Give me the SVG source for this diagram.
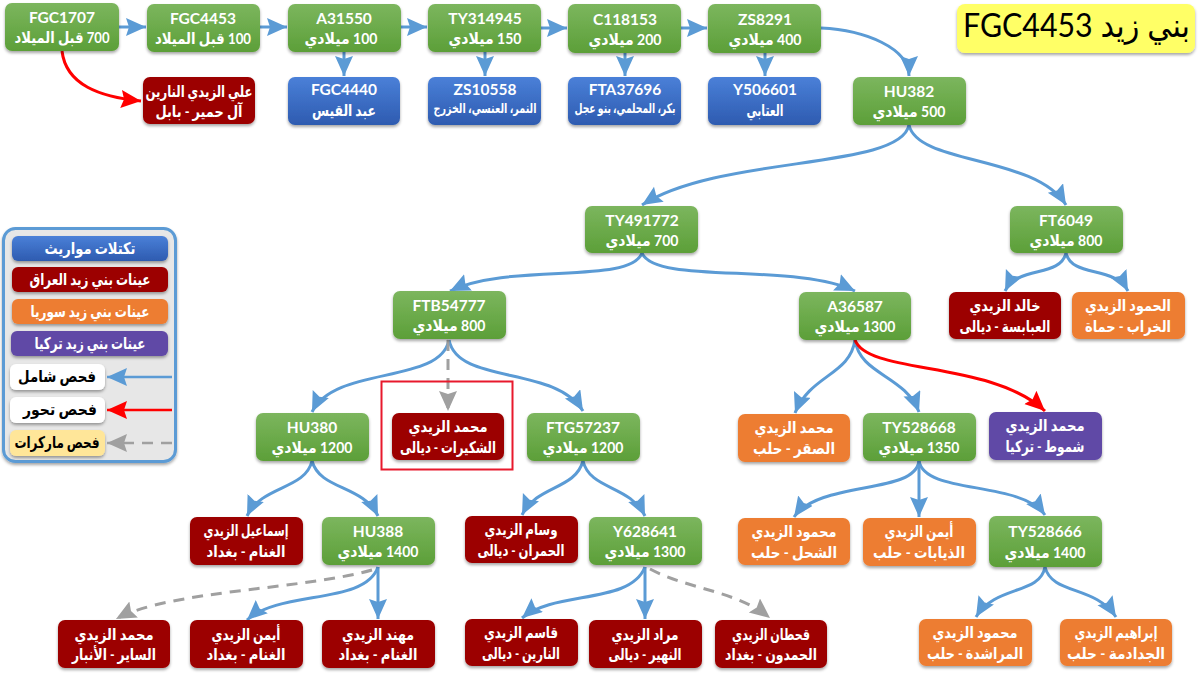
<svg xmlns="http://www.w3.org/2000/svg" width="1200" height="675" viewBox="0 0 1200 675">
<style>
text{font-family:"Lato","DejaVu Sans",sans-serif;text-anchor:middle;direction:rtl;font-weight:700;fill:#fff}
.t{font-size:15.5px}
.l{font-size:16px}
.s{font-size:13.5px}
.k{fill:#000}
rect{stroke:none}
.node rect,.leg rect{filter:url(#sh)}
.g{fill:url(#gg)}.b{fill:url(#gb)}.r{fill:#9c0000}.o{fill:#ed7d31}.p{fill:#6049a6}.w{fill:#fff}.y{fill:#ffe699}
#connectors path{fill:none;stroke-width:3}
.cb{stroke:#5b9bd5;marker-end:url(#ab)}
.cr{stroke:#f00;marker-end:url(#ar)}
.cd{stroke:#a0a0a0;stroke-dasharray:11 8;marker-end:url(#ad)}
</style>
<defs>
<linearGradient id="gg" x1="0" y1="0" x2="0" y2="1"><stop offset="0" stop-color="#7cb65e"/><stop offset="1" stop-color="#5c9f38"/></linearGradient>
<linearGradient id="gb" x1="0" y1="0" x2="0" y2="1"><stop offset="0" stop-color="#4a80d8"/><stop offset="1" stop-color="#2e5bb0"/></linearGradient>
<filter id="sh" x="-10%" y="-15%" width="120%" height="135%"><feDropShadow dx="0" dy="2" stdDeviation="1.5" flood-color="#000" flood-opacity=".35"/></filter>
<marker id="ab" markerUnits="userSpaceOnUse" markerWidth="22" markerHeight="20" refX="20" refY="9" orient="auto"><path d="M0 0L20 9L0 18L3 9Z" fill="#5b9bd5"/></marker>
<marker id="ar" markerUnits="userSpaceOnUse" markerWidth="22" markerHeight="20" refX="20" refY="9" orient="auto"><path d="M0 0L20 9L0 18L3 9Z" fill="#f00"/></marker>
<marker id="ad" markerUnits="userSpaceOnUse" markerWidth="22" markerHeight="20" refX="20" refY="9" orient="auto"><path d="M0 0L20 9L0 18L3 9Z" fill="#a0a0a0"/></marker>
</defs>
<rect width="1200" height="675" fill="#fff"/>
<g id="connectors">
<path class="cb" d="M119 27H146"/><path class="cb" d="M260 27H287"/><path class="cb" d="M400 27H427"/><path class="cb" d="M541 28H567"/><path class="cb" d="M681 28H707"/>
<path class="cb" d="M344 52V76"/><path class="cb" d="M485 52V76"/><path class="cb" d="M625 53V76"/><path class="cb" d="M765 53V76"/>
<path class="cb" d="M821 28C865 30 909 48 909 76"/>
<path class="cr" d="M62 51C66 85 100 97 141 101"/>
<path class="cb" d="M909 125C900 170 720 155 642 205"/>
<path class="cb" d="M909 125C918 165 1035 155 1066 205"/>
<path class="cb" d="M642 253C630 285 510 262 450 291"/>
<path class="cb" d="M642 253C655 285 795 262 855 291"/>
<path class="cb" d="M1066 253C1060 278 1018 265 1005 291"/>
<path class="cb" d="M1066 253C1072 278 1114 265 1128 291"/>
<path class="cb" d="M449 340C440 385 335 365 312 412"/>
<path class="cb" d="M449 340C458 385 555 365 583 411"/>
<path class="cd" d="M448 340V411"/>
<path class="cb" d="M855 340C850 375 810 375 795 413"/>
<path class="cb" d="M855 340C860 375 905 375 919 412"/>
<path class="cr" d="M855 340C868 375 990 360 1045 411"/>
<path class="cb" d="M312 461C305 490 262 485 247 516"/>
<path class="cb" d="M312 461C320 490 363 485 378 516"/>
<path class="cb" d="M583 461C575 490 537 485 522 515"/>
<path class="cb" d="M583 461C590 490 630 485 645 516"/>
<path class="cb" d="M919 461C915 495 820 480 794 517"/>
<path class="cb" d="M919 461V517"/>
<path class="cb" d="M919 461C925 495 1020 480 1045 515"/>
<path class="cb" d="M378 567V619"/>
<path class="cb" d="M378 567C365 605 280 590 247 620"/>
<path class="cd" d="M372 570C300 590 170 590 116 619"/>
<path class="cb" d="M645 567V619"/>
<path class="cb" d="M645 567C630 605 555 590 522 618"/>
<path class="cd" d="M650 569C690 590 735 590 770 618"/>
<path class="cb" d="M1045 567C1040 595 995 585 976 617"/>
<path class="cb" d="M1045 567C1052 595 1095 585 1116 617"/>
</g>
<rect id="highlight" x="381.500" y="381.500" width="131" height="88" fill="none" style="stroke:#e8192c;stroke-width:2"/>
<g id="n1" class="node"><rect class="g" x="5" y="3" width="114" height="48" rx="7"/><text class="t" x="62" y="23">FGC1707</text><text class="l" x="62" y="43" textLength="95" lengthAdjust="spacingAndGlyphs">700 قبل الميلاد</text></g>
<g id="n2" class="node"><rect class="g" x="147" y="4" width="113" height="48" rx="7"/><text class="t" x="203" y="24">FGC4453</text><text class="l" x="203" y="44" textLength="96" lengthAdjust="spacingAndGlyphs">100 قبل الميلاد</text></g>
<g id="n3" class="node"><rect class="g" x="288" y="4" width="113" height="48" rx="7"/><text class="t" x="344" y="24">A31550</text><text class="l" x="341" y="44" textLength="73" lengthAdjust="spacingAndGlyphs">100 ميلادي</text></g>
<g id="n4" class="node"><rect class="g" x="428" y="4" width="113" height="48" rx="7"/><text class="t" x="485" y="24">TY314945</text><text class="l" x="485" y="44" textLength="73" lengthAdjust="spacingAndGlyphs">150 ميلادي</text></g>
<g id="n5" class="node"><rect class="g" x="568" y="4" width="113" height="49" rx="7"/><text class="t" x="625" y="25">C118153</text><text class="l" x="625" y="45" textLength="73" lengthAdjust="spacingAndGlyphs">200 ميلادي</text></g>
<g id="n6" class="node"><rect class="g" x="708" y="4" width="113" height="49" rx="7"/><text class="t" x="765" y="25">ZS8291</text><text class="l" x="765" y="45" textLength="73" lengthAdjust="spacingAndGlyphs">400 ميلادي</text></g>
<g id="n7" class="node"><rect class="r" x="143" y="77" width="112" height="47" rx="7"/><text class="l" x="199" y="97" textLength="107" lengthAdjust="spacingAndGlyphs">علي الزيدي النارين</text><text class="l" x="199" y="117" textLength="87" lengthAdjust="spacingAndGlyphs">آل حمير - بابل</text></g>
<g id="n8" class="node"><rect class="b" x="288" y="77" width="112" height="48" rx="7"/><text class="t" x="344" y="95">FGC4440</text><text class="l" x="344" y="116" textLength="64" lengthAdjust="spacingAndGlyphs">عبد القيس</text></g>
<g id="n9" class="node"><rect class="b" x="428" y="77" width="113" height="48" rx="7"/><text class="t" x="485" y="95">ZS10558</text><text class="s" x="485" y="113" textLength="103" lengthAdjust="spacingAndGlyphs">النمر، العنسي، الخزرج</text></g>
<g id="n10" class="node"><rect class="b" x="568" y="77" width="113" height="48" rx="7"/><text class="t" x="625" y="95">FTA37696</text><text class="s" x="625" y="113" textLength="101" lengthAdjust="spacingAndGlyphs">بكر، المحلمي، بنو عجل</text></g>
<g id="n11" class="node"><rect class="b" x="708" y="77" width="113" height="48" rx="7"/><text class="t" x="765" y="95">Y506601</text><text class="l" x="765" y="116" textLength="37" lengthAdjust="spacingAndGlyphs">العتابي</text></g>
<g id="n12" class="node"><rect class="g" x="853" y="77" width="113" height="48" rx="7"/><text class="t" x="909" y="97">HU382</text><text class="l" x="909" y="117" textLength="73" lengthAdjust="spacingAndGlyphs">500 ميلادي</text></g>
<g id="n13" class="node"><rect class="g" x="585" y="206" width="113" height="47" rx="7"/><text class="t" x="642" y="226">TY491772</text><text class="l" x="642" y="246" textLength="73" lengthAdjust="spacingAndGlyphs">700 ميلادي</text></g>
<g id="n14" class="node"><rect class="g" x="1010" y="206" width="113" height="47" rx="7"/><text class="t" x="1066" y="226">FT6049</text><text class="l" x="1066" y="246" textLength="73" lengthAdjust="spacingAndGlyphs">800 ميلادي</text></g>
<g id="n15" class="node"><rect class="g" x="393" y="291" width="113" height="48" rx="7"/><text class="t" x="449" y="311">FTB54777</text><text class="l" x="449" y="331" textLength="73" lengthAdjust="spacingAndGlyphs">800 ميلادي</text></g>
<g id="n16" class="node"><rect class="g" x="799" y="292" width="112" height="48" rx="7"/><text class="t" x="855" y="312">A36587</text><text class="l" x="855" y="332" textLength="81" lengthAdjust="spacingAndGlyphs">1300 ميلادي</text></g>
<g id="n17" class="node"><rect class="r" x="949" y="292" width="112" height="47" rx="7"/><text class="l" x="1005" y="311" textLength="71" lengthAdjust="spacingAndGlyphs">خالد الزيدي</text><text class="l" x="1005" y="332" textLength="91" lengthAdjust="spacingAndGlyphs">العبابسة - ديالى</text></g>
<g id="n18" class="node"><rect class="o" x="1072" y="292" width="113" height="47" rx="7"/><text class="l" x="1128" y="311" textLength="86" lengthAdjust="spacingAndGlyphs">الحمود الزيدي</text><text class="l" x="1128" y="332" textLength="86" lengthAdjust="spacingAndGlyphs">الخراب - حماة</text></g>
<g id="n19" class="node"><rect class="g" x="256" y="413" width="113" height="48" rx="7"/><text class="t" x="312" y="433">HU380</text><text class="l" x="312" y="453" textLength="81" lengthAdjust="spacingAndGlyphs">1200 ميلادي</text></g>
<g id="n20" class="node"><rect class="r" x="392" y="413" width="112" height="47" rx="7"/><text class="l" x="448" y="432" textLength="79" lengthAdjust="spacingAndGlyphs">محمد الزيدي</text><text class="l" x="448" y="453" textLength="96" lengthAdjust="spacingAndGlyphs">الشكيرات - ديالى</text></g>
<g id="n21" class="node"><rect class="g" x="527" y="413" width="113" height="48" rx="7"/><text class="t" x="583" y="433">FTG57237</text><text class="l" x="583" y="453" textLength="81" lengthAdjust="spacingAndGlyphs">1200 ميلادي</text></g>
<g id="n22" class="node"><rect class="o" x="738" y="414" width="112" height="48" rx="7"/><text class="l" x="794" y="433" textLength="79" lengthAdjust="spacingAndGlyphs">محمد الزيدي</text><text class="l" x="794" y="454" textLength="82" lengthAdjust="spacingAndGlyphs">الصقر - حلب</text></g>
<g id="n23" class="node"><rect class="g" x="863" y="413" width="113" height="48" rx="7"/><text class="t" x="919" y="433">TY528668</text><text class="l" x="919" y="453" textLength="81" lengthAdjust="spacingAndGlyphs">1350 ميلادي</text></g>
<g id="n24" class="node"><rect class="p" x="989" y="412" width="113" height="48" rx="7"/><text class="l" x="1045" y="431" textLength="79" lengthAdjust="spacingAndGlyphs">محمد الزيدي</text><text class="l" x="1045" y="452" textLength="79" lengthAdjust="spacingAndGlyphs">شموط - تركيا</text></g>
<g id="n25" class="node"><rect class="r" x="190" y="517" width="113" height="48" rx="7"/><text class="l" x="246" y="536" textLength="85" lengthAdjust="spacingAndGlyphs">إسماعيل الزيدي</text><text class="l" x="246" y="557" textLength="79" lengthAdjust="spacingAndGlyphs">الغنام - بغداد</text></g>
<g id="n26" class="node"><rect class="g" x="322" y="517" width="113" height="48" rx="7"/><text class="t" x="378" y="537">HU388</text><text class="l" x="378" y="557" textLength="81" lengthAdjust="spacingAndGlyphs">1400 ميلادي</text></g>
<g id="n27" class="node"><rect class="r" x="465" y="516" width="113" height="47" rx="7"/><text class="l" x="521" y="535" textLength="73" lengthAdjust="spacingAndGlyphs">وسام الزيدي</text><text class="l" x="521" y="556" textLength="87" lengthAdjust="spacingAndGlyphs">الحمران - ديالى</text></g>
<g id="n28" class="node"><rect class="g" x="589" y="517" width="113" height="48" rx="7"/><text class="t" x="645" y="537">Y628641</text><text class="l" x="645" y="557" textLength="81" lengthAdjust="spacingAndGlyphs">1300 ميلادي</text></g>
<g id="n29" class="node"><rect class="o" x="738" y="518" width="112" height="47" rx="7"/><text class="l" x="794" y="537" textLength="85" lengthAdjust="spacingAndGlyphs">محمود الزيدي</text><text class="l" x="794" y="558" textLength="86" lengthAdjust="spacingAndGlyphs">الشحل - حلب</text></g>
<g id="n30" class="node"><rect class="o" x="863" y="518" width="113" height="48" rx="7"/><text class="l" x="919" y="537" textLength="69" lengthAdjust="spacingAndGlyphs">أيمن الزيدي</text><text class="l" x="919" y="558" textLength="92" lengthAdjust="spacingAndGlyphs">الذيابات - حلب</text></g>
<g id="n31" class="node"><rect class="g" x="989" y="516" width="113" height="51" rx="7"/><text class="t" x="1045" y="537">TY528666</text><text class="l" x="1045" y="558" textLength="81" lengthAdjust="spacingAndGlyphs">1400 ميلادي</text></g>
<g id="n32" class="node"><rect class="r" x="58" y="620" width="112" height="48" rx="7"/><text class="l" x="114" y="640" textLength="79" lengthAdjust="spacingAndGlyphs">محمد الزيدي</text><text class="l" x="114" y="660" textLength="84" lengthAdjust="spacingAndGlyphs">الساير - الأنبار</text></g>
<g id="n33" class="node"><rect class="r" x="190" y="620" width="113" height="48" rx="7"/><text class="l" x="246" y="640" textLength="69" lengthAdjust="spacingAndGlyphs">أيمن الزيدي</text><text class="l" x="246" y="660" textLength="79" lengthAdjust="spacingAndGlyphs">الغنام - بغداد</text></g>
<g id="n34" class="node"><rect class="r" x="322" y="620" width="113" height="48" rx="7"/><text class="l" x="378" y="640" textLength="72" lengthAdjust="spacingAndGlyphs">مهند الزيدي</text><text class="l" x="378" y="660" textLength="79" lengthAdjust="spacingAndGlyphs">الغنام - بغداد</text></g>
<g id="n35" class="node"><rect class="r" x="465" y="619" width="113" height="47" rx="7"/><text class="l" x="521" y="638" textLength="74" lengthAdjust="spacingAndGlyphs">قاسم الزيدي</text><text class="l" x="521" y="659" textLength="78" lengthAdjust="spacingAndGlyphs">النارين - ديالى</text></g>
<g id="n36" class="node"><rect class="r" x="589" y="620" width="113" height="48" rx="7"/><text class="l" x="645" y="640" textLength="67" lengthAdjust="spacingAndGlyphs">مراد الزيدي</text><text class="l" x="645" y="660" textLength="73" lengthAdjust="spacingAndGlyphs">النهير - ديالى</text></g>
<g id="n37" class="node"><rect class="r" x="715" y="620" width="112" height="48" rx="7"/><text class="l" x="771" y="640" textLength="78" lengthAdjust="spacingAndGlyphs">قحطان الزيدي</text><text class="l" x="771" y="660" textLength="92" lengthAdjust="spacingAndGlyphs">الحمدون - بغداد</text></g>
<g id="n38" class="node"><rect class="o" x="919" y="619" width="113" height="47" rx="7"/><text class="l" x="975" y="638" textLength="85" lengthAdjust="spacingAndGlyphs">محمود الزيدي</text><text class="l" x="975" y="659" textLength="96" lengthAdjust="spacingAndGlyphs">المراشدة - حلب</text></g>
<g id="n39" class="node"><rect class="o" x="1060" y="619" width="112" height="47" rx="7"/><text class="l" x="1116" y="638" textLength="83" lengthAdjust="spacingAndGlyphs">إبراهيم الزيدي</text><text class="l" x="1116" y="659" textLength="98" lengthAdjust="spacingAndGlyphs">الجدادمة - حلب</text></g>
<g id="title" class="node"><rect x="957" y="4" width="238" height="49" rx="8" fill="#ffff66"/><text class="k" x="1076.500" y="37" textLength="227" lengthAdjust="spacingAndGlyphs" style="font-size:33px;font-weight:400">بني زيد FGC4453</text></g>
<g id="legend" class="leg">
<rect x="3.500" y="228.500" width="172" height="233" rx="12" fill="#e7e7e7" style="stroke:#5b9bd5;stroke-width:3"/>
<rect class="b" x="12" y="236" width="156" height="25" rx="6"/><text class="l" x="90" y="254" textLength="91" lengthAdjust="spacingAndGlyphs">تكتلات مواريث</text>
<rect class="r" x="12" y="267" width="156" height="25" rx="6"/><text class="l" x="90" y="285" textLength="121" lengthAdjust="spacingAndGlyphs">عينات بني زيد العراق</text>
<rect class="o" x="12" y="299" width="156" height="25" rx="6"/><text class="l" x="90" y="317" textLength="119" lengthAdjust="spacingAndGlyphs">عينات بني زيد سوريا</text>
<rect class="p" x="11" y="331" width="157" height="25" rx="6"/><text class="l" x="90" y="349" textLength="111" lengthAdjust="spacingAndGlyphs">عينات بني زيد تركيا</text>
<rect class="w" x="10" y="364" width="95" height="26" rx="6"/><text class="l k" x="57" y="382" textLength="78" lengthAdjust="spacingAndGlyphs">فحص شامل</text>
<rect class="w" x="10" y="397" width="95" height="26" rx="6"/><text class="l k" x="60" y="415" textLength="74" lengthAdjust="spacingAndGlyphs">فحص تحور</text>
<rect class="y" x="10" y="430" width="95" height="26" rx="6"/><text class="l k" x="57" y="448" textLength="85" lengthAdjust="spacingAndGlyphs">فحص ماركرات</text>
<path d="M172 377H107" fill="none" stroke="#5b9bd5" stroke-width="2.500" marker-end="url(#ab)"/>
<path d="M172 410H107" fill="none" stroke="#f00" stroke-width="2.500" marker-end="url(#ar)"/>
<path d="M172 443H107" fill="none" stroke="#a0a0a0" stroke-width="2.500" stroke-dasharray="11 8" marker-end="url(#ad)"/>
</g>
</svg>
